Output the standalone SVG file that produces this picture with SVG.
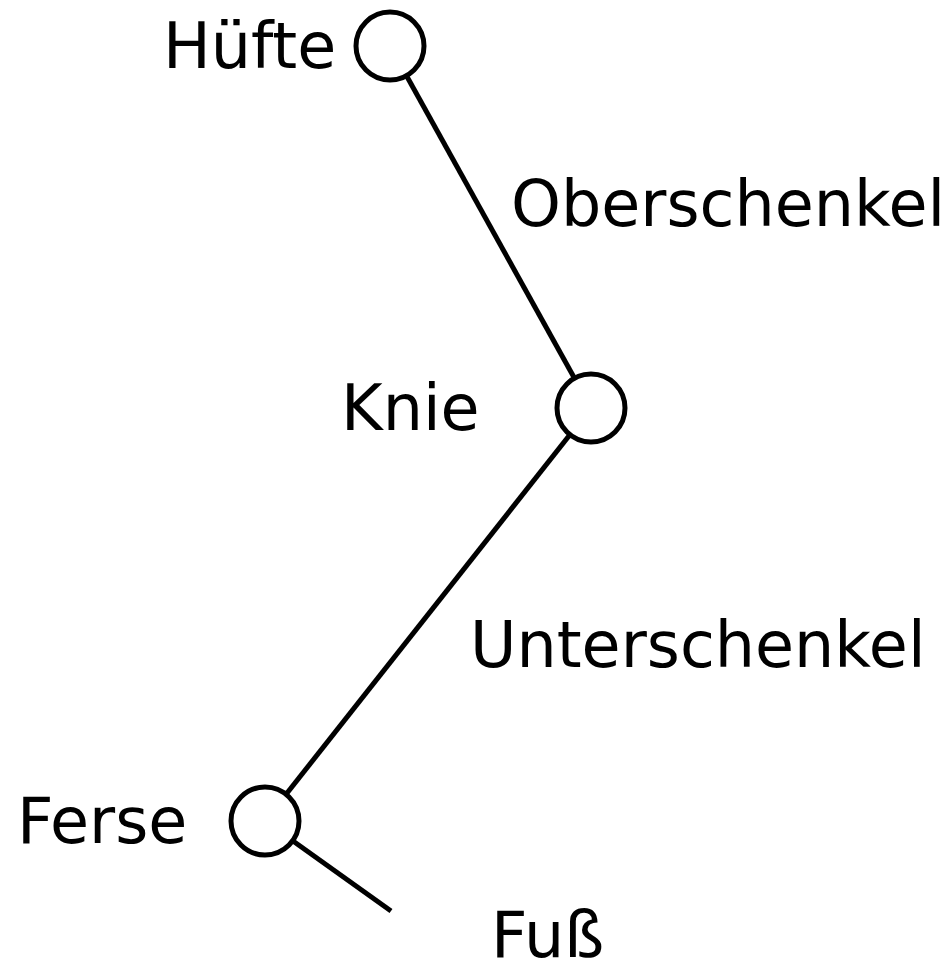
<svg xmlns="http://www.w3.org/2000/svg" width="951" height="966" viewBox="0 0 951 966">
<style>
.n{fill:#fff;stroke:#000;stroke-width:5}
.e{stroke:#000;stroke-width:5;fill:none}
text{font-family:"DejaVu Sans","Liberation Sans",sans-serif;font-size:63.5px;fill:#000}
</style>
<rect width="951" height="966" fill="#fff"/>
<g id="connectors">
<line class="e" x1="390" y1="46" x2="591" y2="408"/>
<line class="e" x1="591" y1="408" x2="265" y2="821"/>
<line class="e" x1="265" y1="821" x2="391" y2="911"/>
</g>
<g id="huefte"><circle class="n" cx="390" cy="46" r="34"/><text x="163" y="68">Hüfte</text></g>
<g id="knie"><circle class="n" cx="591" cy="408" r="34"/><text x="341" y="430">Knie</text></g>
<g id="ferse"><circle class="n" cx="265" cy="821" r="34"/><text x="17" y="843">Ferse</text></g>
<g id="oberschenkel"><text x="511" y="226">Oberschenkel</text></g>
<g id="unterschenkel"><text x="470" y="667">Unterschenkel</text></g>
<g id="fuss"><text x="491" y="957">Fuß</text></g>
</svg>
